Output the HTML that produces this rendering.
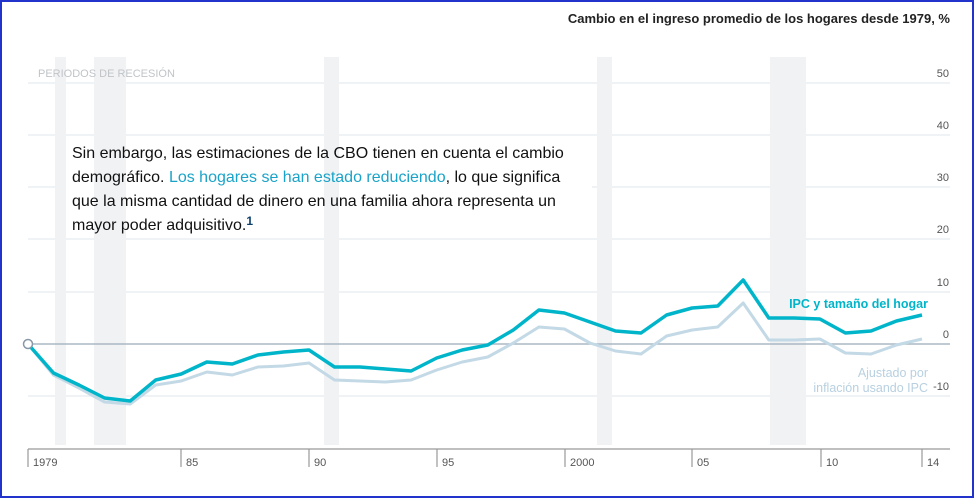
<!DOCTYPE html><html><head><style>
body{margin:0;width:974px;height:498px;overflow:hidden;background:#fff;font-family:"Liberation Sans",sans-serif}
</style></head><body>
<svg width="974" height="498" xmlns="http://www.w3.org/2000/svg" font-family="Liberation Sans, sans-serif">
<rect x="1" y="1" width="972" height="496" fill="#fff" stroke="#2233cc" stroke-width="2"/>
<text x="950" y="23" text-anchor="end" font-size="13" font-weight="bold" fill="#222">Cambio en el ingreso promedio de los hogares desde 1979, %</text>
<g stroke="#e6ecf0" stroke-width="1.2">
<line x1="28" x2="950" y1="83" y2="83"/><line x1="28" x2="950" y1="135" y2="135"/><line x1="28" x2="950" y1="187" y2="187"/>
<line x1="28" x2="950" y1="239" y2="239"/><line x1="28" x2="950" y1="292" y2="292"/><line x1="28" x2="950" y1="396" y2="396"/></g>
<rect x="62" y="137" width="530" height="100" fill="#fff"/>
<g fill="#f1f2f4">
<rect x="55" y="57" width="11" height="388"/><rect x="94" y="57" width="32" height="388"/>
<rect x="324" y="57" width="15" height="388"/><rect x="597" y="57" width="15" height="388"/>
<rect x="770" y="57" width="36" height="388"/></g>
<text x="38" y="77" font-size="11" fill="#c0c4c8">PERIODOS DE RECESIÓN</text>
<line x1="28" x2="950" y1="344" y2="344" stroke="#aab8c4" stroke-width="1.5"/>
<g font-size="11" fill="#555" text-anchor="end">
<text x="949" y="77">50</text><text x="949" y="129">40</text><text x="949" y="181">30</text><text x="949" y="233">20</text><text x="949" y="286">10</text><text x="949" y="338">0</text><text x="949" y="390">-10</text></g>
<polyline fill="none" stroke="#c3d9e6" stroke-width="3" stroke-linejoin="round" points="28,344 53.5,375 79,388 104.6,402 130.2,404 155.7,385 181.2,381 206.8,372 232.3,375 257.9,367 283.4,366 309,363 334.5,380 360,381 385.6,382 411.1,380 436.7,370 462.2,362 487.8,357 513.3,343 538.9,327 564.4,329 590,343 615.5,351 641,354 666.6,336 692.1,330 717.7,327 743.2,303 768.8,340 794.3,340 819.9,339 845.4,353 871,354 896.5,345 922,339"/>
<polyline fill="none" stroke="#00b5c9" stroke-width="3.5" stroke-linejoin="round" points="28,344 53.5,373 79,385 104.6,398 130.2,401 155.7,380 181.2,374 206.8,362 232.3,364 257.9,355 283.4,352 309,350 334.5,367 360,367 385.6,369 411.1,371 436.7,358 462.2,350 487.8,345 513.3,330 538.9,310 564.4,313 590,322 615.5,331 641,333 666.6,315 692.1,308 717.7,306 743.2,280 768.8,318 794.3,318 819.9,319 845.4,333 871,331 896.5,321 922,315"/>
<circle cx="28" cy="344" r="4.5" fill="#fff" stroke="#8898a6" stroke-width="1.5"/>
<text x="928" y="308" text-anchor="end" font-size="12.5" font-weight="bold" fill="#00b5c9">IPC y tamaño del hogar</text>
<text x="928" y="377" text-anchor="end" font-size="12.5" fill="#b8d0e0">Ajustado por</text>
<text x="928" y="392" text-anchor="end" font-size="12.5" fill="#b8d0e0">inflación usando IPC</text>
<line x1="28" x2="950" y1="449" y2="449" stroke="#999" stroke-width="1.2"/>
<g stroke="#999" stroke-width="1.2">
<line x1="28" x2="28" y1="449" y2="467"/><line x1="181" x2="181" y1="449" y2="467"/><line x1="309" x2="309" y1="449" y2="467"/>
<line x1="437" x2="437" y1="449" y2="467"/><line x1="565" x2="565" y1="449" y2="467"/><line x1="692" x2="692" y1="449" y2="467"/>
<line x1="821" x2="821" y1="449" y2="467"/><line x1="922" x2="922" y1="449" y2="467"/></g>
<g font-size="11" fill="#555">
<text x="33" y="466">1979</text><text x="186" y="466">85</text><text x="314" y="466">90</text><text x="442" y="466">95</text>
<text x="570" y="466">2000</text><text x="697" y="466">05</text><text x="826" y="466">10</text><text x="927" y="466">14</text></g>
<g font-size="16" fill="#111">
<text x="72" y="158">Sin embargo, las estimaciones de la CBO tienen en cuenta el cambio</text>
<text x="72" y="182">demográfico. <tspan fill="#1aa3c8">Los hogares se han estado reduciendo</tspan>, lo que significa</text>
<text x="72" y="206">que la misma cantidad de dinero en una familia ahora representa un</text>
<text x="72" y="230">mayor poder adquisitivo.<tspan font-size="12" font-weight="bold" fill="#0d3f6b" dy="-5">1</tspan></text>
</g>
</svg></body></html>
